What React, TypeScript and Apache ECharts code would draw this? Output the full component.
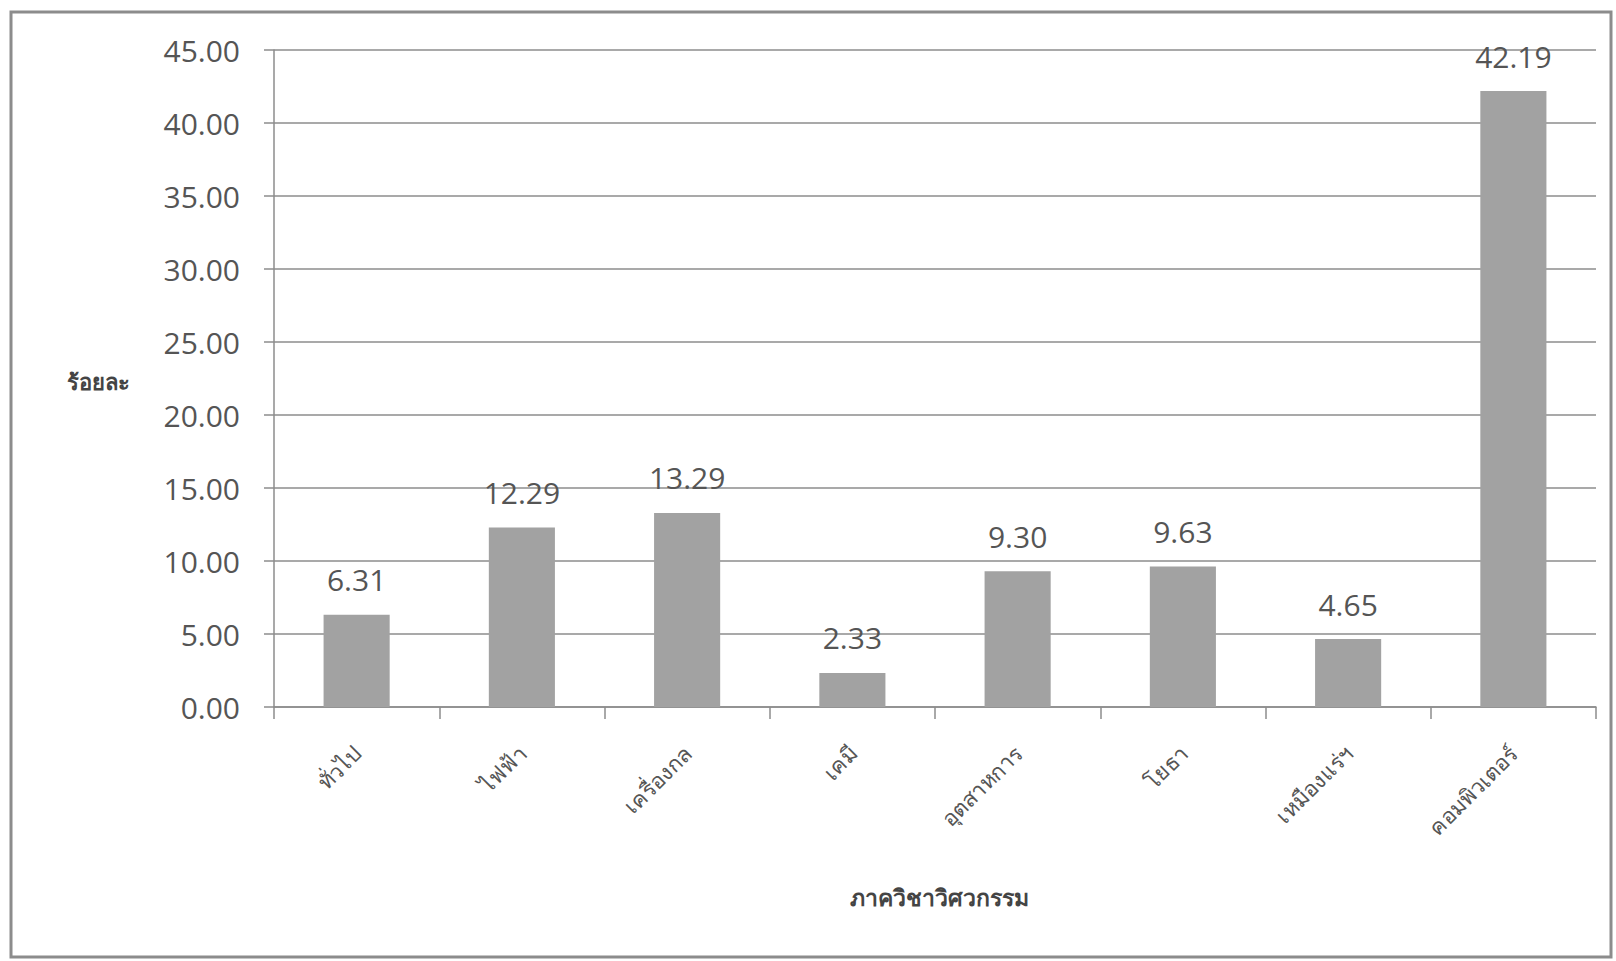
import React, { useEffect, useRef } from "react";
import * as echarts from "echarts";

const categories = ["ทั่วไป", "ไฟฟ้า", "เครื่องกล", "เคมี", "อุตสาหการ", "โยธา", "เหมืองแร่ฯ", "คอมพิวเตอร์"];
const percentValues = [6.31, 12.29, 13.29, 2.33, 9.3, 9.63, 4.65, 42.19];
const yAxisTitle = "ร้อยละ";
const xAxisTitle = "ภาควิชาวิศวกรรม";

export default function App() {
  const ref = useRef<HTMLDivElement>(null);
  useEffect(() => {
    if (!ref.current) return;
    const chart = echarts.init(ref.current, undefined, { renderer: "svg" });
    const numFont = "'Open Sans', 'Liberation Sans', sans-serif";
    const thaiFont = "'Noto Sans', 'DejaVu Sans', sans-serif";
    chart.setOption({
      animation: false,
      backgroundColor: "#ffffff",
      grid: { left: 274, top: 50, right: 20, bottom: 254, containLabel: false },
      xAxis: {
        type: "category",
        data: categories,
        axisLine: { show: true, lineStyle: { color: "#8c8c8c", width: 1.5 } },
        axisTick: { show: true, length: 12, lineStyle: { color: "#8c8c8c", width: 1.5 } },
        axisLabel: {
          rotate: 45,
          margin: 42,
          fontSize: 22,
          color: "#555555",
          fontFamily: thaiFont,
          interval: 0,
        },
      },
      yAxis: {
        type: "value",
        min: 0,
        max: 45,
        interval: 5,
        axisLine: { show: true, lineStyle: { color: "#8c8c8c", width: 1.5 } },
        axisTick: { show: true, length: 10, lineStyle: { color: "#8c8c8c", width: 1.5 } },
        splitLine: { show: true, lineStyle: { color: "#8c8c8c", width: 1.5 } },
        axisLabel: {
          margin: 34,
          fontSize: 30,
          color: "#555555",
          fontFamily: numFont,
          formatter: (v: number) => v.toFixed(2),
        },
      },
      series: [
        {
          type: "bar",
          data: percentValues,
          barWidth: "40%",
          itemStyle: { color: "#a2a2a2" },
          label: {
            show: true,
            position: "top",
            distance: 20,
            fontSize: 30,
            color: "#555555",
            fontFamily: numFont,
            formatter: (p: any) => Number(p.value).toFixed(2),
          },
        },
      ],
      graphic: [
        {
          type: "rect",
          shape: { x: 11, y: 12, width: 1600, height: 945 },
          style: { fill: "none", stroke: "#8c8c8c", lineWidth: 3 },
          silent: true,
        },
        {
          type: "text",
          x: 98,
          y: 381,
          style: {
            text: yAxisTitle,
            fontSize: 22,
            fontWeight: "bold",
            fill: "#444444",
            fontFamily: thaiFont,
            textAlign: "center",
            textVerticalAlign: "middle",
          },
        },
        {
          type: "text",
          x: 939,
          y: 897,
          style: {
            text: xAxisTitle,
            fontSize: 23,
            fontWeight: "bold",
            fill: "#444444",
            fontFamily: thaiFont,
            textAlign: "center",
            textVerticalAlign: "middle",
          },
        },
      ],
    });
    return () => chart.dispose();
  }, []);
  return (
    <div
      ref={ref}
      style={{ position: "fixed", left: 0, top: 0, width: 1616, height: 961 }}
    />
  );
}
